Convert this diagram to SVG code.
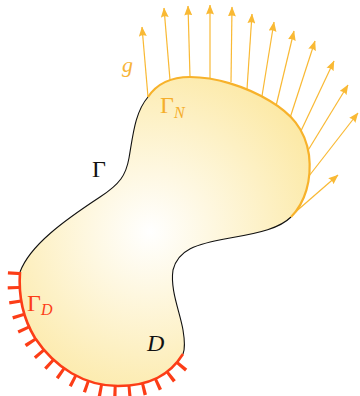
<svg xmlns="http://www.w3.org/2000/svg" width="360" height="396" viewBox="0 0 360 396">
<style>
.arr{stroke:#f9b934;stroke-width:1.2;fill:none;marker-end:url(#ah)}
.blk{stroke:#111;stroke-width:1.1;fill:none}
.gn{stroke:#f7b22b;stroke-width:2.2;fill:none}
.gd{stroke:#fc3d17;stroke-width:2.6;fill:none}
.tk{stroke:#fc3d17;stroke-width:24;fill:none;stroke-dasharray:2.2 8;}
.lab{font-family:"Liberation Serif","DejaVu Serif",serif}
</style>
<defs>
<radialGradient id="fillg" gradientUnits="userSpaceOnUse" cx="150" cy="232" r="180">
<stop offset="0" stop-color="#ffffff"/>
<stop offset="1" stop-color="#fce9a6"/>
</radialGradient>
<marker id="ah" viewBox="0 0 10 8" refX="9.5" refY="4" markerWidth="10" markerHeight="8" markerUnits="userSpaceOnUse" orient="auto">
<path d="M0,0 L10,4 L0,8 Q2.2,4 0,0z" fill="#f9b934"/>
</marker>
</defs>
<g id="connectors">
<line class="arr" x1="148" y1="97" x2="142" y2="27"/>
<line class="arr" x1="170" y1="80" x2="164" y2="8"/>
<line class="arr" x1="190" y1="77" x2="188" y2="6"/>
<line class="arr" x1="210" y1="78" x2="210" y2="5"/>
<line class="arr" x1="231" y1="82" x2="232" y2="7"/>
<line class="arr" x1="247" y1="89" x2="252" y2="14"/>
<line class="arr" x1="262" y1="96" x2="274" y2="22"/>
<line class="arr" x1="276" y1="106" x2="294" y2="31"/>
<line class="arr" x1="290" y1="118" x2="315" y2="41"/>
<line class="arr" x1="300" y1="133" x2="334" y2="61"/>
<line class="arr" x1="307" y1="152" x2="348" y2="85"/>
<line class="arr" x1="309" y1="176" x2="358" y2="113"/>
<line class="arr" x1="292" y1="215" x2="338" y2="175"/>
</g>
<g id="domain">
<path class="tk" pathLength="182.2" d="M20,272 C18,300 24,320 35,338 C55,368 85,386 118,386 C150,386 170,375 183,354"/>
<path fill="url(#fillg)" d="M148,97 C158,82 172,77 190,77 C215,77 245,86 270,101 C290,113 305,128 309,155 C312,180 305,203 291,217 C280,228 260,233 230,238 C195,244 178,250 173,270 C170,290 180,312 183,330 C185,342 185,349 183,354 C170,375 150,386 118,386 C85,386 55,368 35,338 C24,320 18,300 20,272 C30,245 65,220 100,197 C120,184 126,175 129,158 C133,135 135,112 148,97 Z"/>
<path class="blk" d="M291,217 C280,228 260,233 230,238 C195,244 178,250 173,270 C170,290 180,312 183,330 C185,342 185,349 183,354"/>
<path class="blk" d="M20,272 C30,245 65,220 100,197 C120,184 126,175 129,158 C133,135 135,112 148,97"/>
<path class="gn" d="M148,97 C158,82 172,77 190,77 C215,77 245,86 270,101 C290,113 305,128 309,155 C312,180 305,203 291,217"/>
<path class="gd" d="M183,354 C170,375 150,386 118,386 C85,386 55,368 35,338 C24,320 18,300 20,272"/>
</g>
<g id="labels">
<text class="lab" x="122" y="72" font-size="22" font-style="italic" fill="#f7b438">g</text>
<text class="lab" x="160" y="113" font-size="24" fill="#f5ae2c">Γ<tspan font-size="16" font-style="italic" dy="5">N</tspan></text>
<text class="lab" x="92" y="177" font-size="24" fill="#111">Γ</text>
<text class="lab" x="27" y="311" font-size="24" fill="#fc3d17">Γ<tspan font-size="16" font-style="italic" dy="4">D</tspan></text>
<text class="lab" x="147" y="351" font-size="24" font-style="italic" fill="#111">D</text>
</g>
</svg>
